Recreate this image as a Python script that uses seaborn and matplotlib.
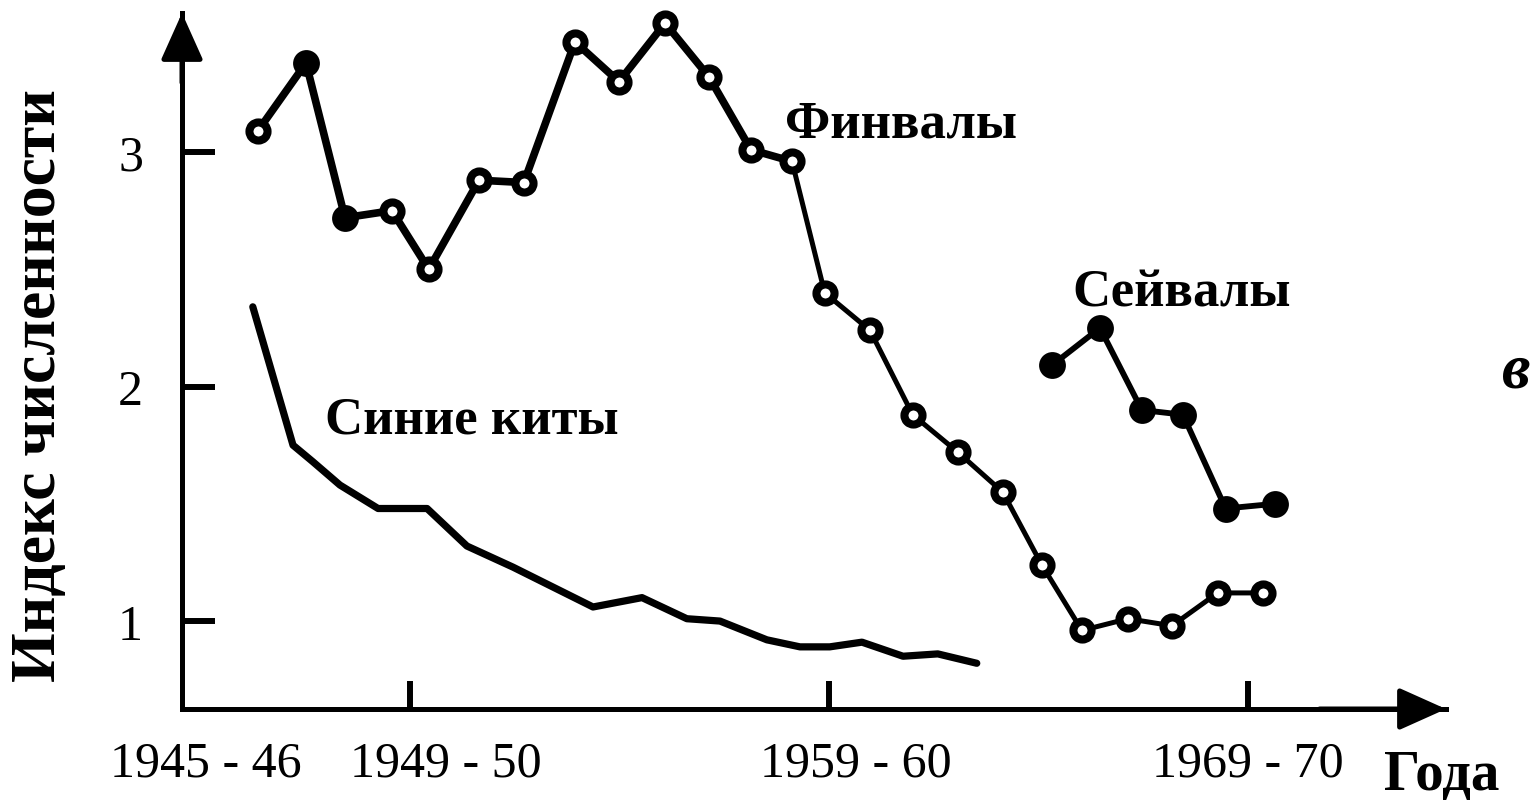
import matplotlib
matplotlib.use('Agg')
import matplotlib.pyplot as plt
import seaborn as sns
import pandas as pd

# fin whales (Финвалы) - season start year, abundance index, marker filled?
fin_season = [1945.37, 1946.52, 1947.45, 1948.57, 1949.45, 1950.65, 1951.72, 1952.94,
              1953.99, 1955.09, 1956.14, 1957.14, 1958.12, 1958.90, 1959.98, 1961.00,
              1962.08, 1963.15, 1964.08, 1965.04, 1966.14, 1967.19, 1968.28, 1969.36]
fin_index = [3.09, 3.38, 2.72, 2.75, 2.50, 2.88, 2.87, 3.47,
             3.30, 3.55, 3.32, 3.01, 2.96, 2.40, 2.24, 1.88,
             1.72, 1.55, 1.24, 0.96, 1.01, 0.98, 1.12, 1.12]
fin_filled = [False, True, True] + [False] * 21

# sei whales (Сейвалы)
sei_season = [1964.32, 1965.47, 1966.47, 1967.45, 1968.47, 1969.64]
sei_index = [2.09, 2.25, 1.90, 1.88, 1.48, 1.50]

# blue whales (Синие киты)
blue_season = [1945.25, 1946.21, 1946.68, 1947.33, 1948.24, 1949.41, 1950.36, 1951.46,
               1953.37, 1954.54, 1955.61, 1956.40, 1957.52, 1958.31, 1959.02, 1959.79,
               1960.77, 1961.60, 1962.53]
blue_index = [2.34, 1.75, 1.68, 1.58, 1.48, 1.48, 1.32, 1.23,
              1.06, 1.10, 1.01, 1.00, 0.92, 0.89, 0.89, 0.91,
              0.85, 0.86, 0.82]

season_labels = ['1945 - 46', '1949 - 50', '1959 - 60', '1969 - 70']
season_label_x = [1944.13, 1949.86, 1959.64, 1969.0]
season_ticks = [1949, 1959, 1969]
index_ticks = [1, 2, 3]

sns.set_style('white')
plt.rcParams['font.family'] = ['Liberation Serif', 'DejaVu Serif']
plt.rcParams['text.color'] = 'black'
plt.rcParams['xtick.color'] = 'black'
plt.rcParams['ytick.color'] = 'black'

fig = plt.figure(figsize=(15.36, 8.04), dpi=100)
ax = fig.add_axes([182 / 1536, 94 / 804, 1264 / 1536, 696 / 804])

fin = pd.DataFrame({'season': fin_season, 'index': fin_index, 'filled': fin_filled})
sei = pd.DataFrame({'season': sei_season, 'index': sei_index})
blue = pd.DataFrame({'season': blue_season, 'index': blue_index})

# lines
sns.lineplot(data=blue, x='season', y='index', color='black', lw=5.2, sort=False,
             estimator=None, ax=ax, clip_on=False)
sns.lineplot(data=fin.iloc[:13], x='season', y='index', color='black', lw=5.5, sort=False,
             estimator=None, ax=ax, clip_on=False)
sns.lineplot(data=fin.iloc[12:], x='season', y='index', color='black', lw=3.6, sort=False,
             estimator=None, ax=ax, clip_on=False)
sns.lineplot(data=sei, x='season', y='index', color='black', lw=4.2, sort=False,
             estimator=None, ax=ax, clip_on=False)

# markers
sns.scatterplot(data=fin[~fin['filled']], x='season', y='index', marker='o', s=170,
                color='white', edgecolor='black', linewidth=5.8, ax=ax, clip_on=False, zorder=3)
sns.scatterplot(data=fin[fin['filled']], x='season', y='index', marker='o', s=300,
                color='black', edgecolor='black', linewidth=2, ax=ax, clip_on=False, zorder=3)
sns.scatterplot(data=sei, x='season', y='index', marker='o', s=300,
                color='black', edgecolor='black', linewidth=2, ax=ax, clip_on=False, zorder=3)

ax.set_xlim(1943.56, 1973.73)
ax.set_ylim(0.625, 3.593)
ax.set_xlabel('')
ax.set_ylabel('')

for side in ['top', 'right']:
    ax.spines[side].set_visible(False)
for side in ['left', 'bottom']:
    ax.spines[side].set_linewidth(3.6)
    ax.spines[side].set_color('black')

ax.set_yticks(index_ticks)
ax.tick_params(axis='y', left=True, direction='in', length=24, width=4.3, pad=28,
               labelsize=36, color='black', labelcolor='black')
# labels sit on major ticks (no mark), tick marks are minor ticks
ax.xaxis.remove_overlapping_locs = False
ax.set_xticks(season_label_x, labels=season_labels)
ax.set_xticks(season_ticks, minor=True)
ax.tick_params(axis='x', which='major', bottom=True, length=0, pad=22, labelsize=36,
               labelcolor='black')
ax.tick_params(axis='x', which='minor', bottom=True, direction='in', length=20, width=4.3,
               color='black')

# axis arrows
arrow = dict(arrowstyle='-|>,head_length=2.9,head_width=1.3', mutation_scale=10,
             color='black', lw=3.6, shrinkA=0, shrinkB=0)
ax.annotate('', xy=(0, 1), xytext=(0, 0.9), xycoords='axes fraction', arrowprops=arrow,
            annotation_clip=False)
ax.annotate('', xy=(1, 0), xytext=(0.9, 0), xycoords='axes fraction', arrowprops=arrow,
            annotation_clip=False)

# series labels
ax.text(1957.95, 3.12, 'Финвалы', fontsize=38, fontweight='bold', ha='left', va='center')
ax.text(1964.82, 2.40, 'Сейвалы', fontsize=38, fontweight='bold', ha='left', va='center')
ax.text(1946.97, 1.86, 'Синие киты', fontsize=38, fontweight='bold', ha='left', va='center')

fig.text(0.026, 0.521, 'Индекс численности', rotation=90, fontsize=46, fontweight='bold',
         ha='center', va='center')
fig.text(1384 / 1536, 0.018, 'Года', fontsize=41, fontweight='bold', ha='left', va='baseline')
fig.text(0.987, 0.537, 'в', fontsize=46, fontweight='bold', fontstyle='italic',
         ha='center', va='center')

fig.savefig('out.png', dpi=100)
